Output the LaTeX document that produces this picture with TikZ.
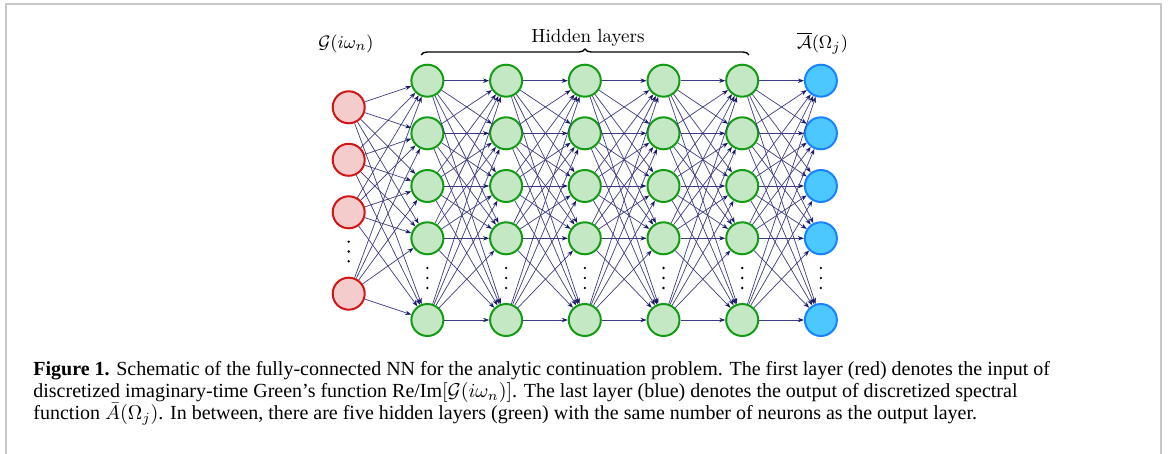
\documentclass[tikz,border=0pt]{standalone}
\usepackage{fontspec}
\newfontfamily\capfont{Liberation Serif}
\usetikzlibrary{arrows.meta,decorations.pathreplacing}
\definecolor{redfill}{RGB}{244,204,204}
\definecolor{redline}{RGB}{210,20,20}
\definecolor{grfill}{RGB}{196,231,196}
\definecolor{grline}{RGB}{20,155,20}
\definecolor{blfill}{RGB}{77,200,255}
\definecolor{blline}{RGB}{25,130,255}
\definecolor{navy}{RGB}{25,25,105}
\definecolor{navyline}{RGB}{60,60,130}
\definecolor{framegray}{RGB}{200,200,200}
\begin{document}
\begin{tikzpicture}[x=0.5pt,y=-0.5pt,
  neuron/.style={circle,minimum size=16pt,inner sep=0pt,line width=1pt},
  inneuron/.style={neuron,draw=redline,fill=redfill},
  hidneuron/.style={neuron,draw=grline,fill=grfill},
  outneuron/.style={neuron,draw=blline,fill=blfill},
  conn/.style={draw=navyline,line width=0.35pt,-{Stealth[length=3pt,width=2.2pt,color=navy]}},
  lbl/.style={font=\fontsize{9.5}{11}\selectfont,inner sep=0pt}]
\useasboundingbox (0,0) rectangle (1168,454);
\draw[framegray,line width=1pt] (6,454) -- (6,4) -- (1161,4) -- (1161,454);
% input layer
\foreach \i/\y in {1/107.3,2/159.8,3/212.3,4/293.7}
  \node[inneuron] (L0-\i) at (348.7,\y) {};
% hidden layers
\foreach \l in {1,...,5}{
  \pgfmathsetmacro\xx{348.7+78.7*\l}
  \foreach \i/\y in {1/80.7,2/133.3,3/186,4/238.3,5/320}
    \node[hidneuron] (L\l-\i) at (\xx,\y) {};
}
% output layer
\foreach \i/\y in {1/80.7,2/133.3,3/186,4/238.3,5/320}
  \node[outneuron] (L6-\i) at (820.9,\y) {};
% connections
\foreach \i in {1,...,4}
  \foreach \j in {1,...,5}
    \draw[conn] (L0-\i) -- (L1-\j);
\foreach \l [evaluate=\l as \m using int(\l+1)] in {1,...,5}
  \foreach \i in {1,...,5}
    \foreach \j in {1,...,5}
      \draw[conn] (L\l-\i) -- (L\m-\j);
% dots
\foreach \y in {241.7,251.5,261.3}
  \fill (348.7,\y) circle (1.3);
\foreach \l in {1,...,6}{
  \pgfmathsetmacro\xx{348.7+78.7*\l}
  \foreach \y in {268,278,288}
    \fill (\xx,\y) circle (1.3);
}
% labels
\node[lbl] (gin) at (346,44) {$\mathcal{G}(i\omega_n)$};
\node[lbl] (hid) at (588,38) {Hidden layers};
\node[lbl] (aout) at (822.5,43) {$\overline{\mathcal{A}}(\Omega_j)$};
\draw[decorate,decoration={brace,amplitude=3pt},line width=0.7pt] (421,55) -- (749,55);
% caption
\node[anchor=north west,align=left,inner sep=0pt,
      font=\capfont\fontsize{10}{11}\selectfont] (cap) at (33,361)
{\textbf{Figure 1.} Schematic of the fully-connected NN for the analytic continuation problem. The first layer (red) denotes the input of\\
discretized imaginary-time Green’s function Re/Im$[\mathcal{G}(i\omega_n)]$. The last layer (blue) denotes the output of discretized spectral\\
function $\bar{A}(\Omega_j)$. In between, there are five hidden layers (green) with the same number of neurons as the output layer.};
\end{tikzpicture}
\end{document}
